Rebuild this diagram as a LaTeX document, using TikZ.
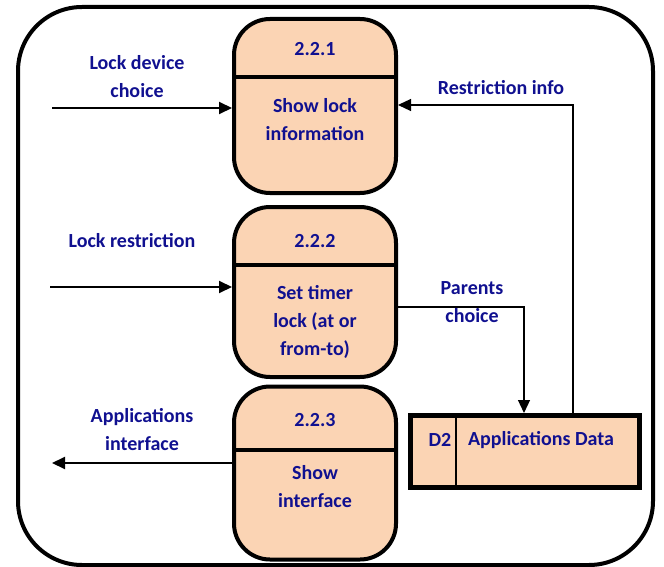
\documentclass[tikz,border=0pt]{standalone}
\usepackage{fontspec}
\setmainfont{Carlito}
\usepackage{tikz}
\usetikzlibrary{arrows.meta}
\definecolor{peach}{HTML}{FBD4B4}
\definecolor{inkblue}{RGB}{16,16,144}
\tikzset{
  proc/.style={draw, line width=4pt, fill=peach, rounded corners=36pt,
    minimum width=162pt, inner sep=0pt},
  lbl/.style={text=inkblue, font=\fontsize{20}{28}\selectfont\bfseries,
    align=center, inner sep=0pt},
  flow/.style={line width=2pt, -{Triangle[length=13pt,width=12pt]}},
  thinflow/.style={line width=1.2pt, -{Triangle[length=13pt,width=12pt]}}
}
\begin{document}
\begin{tikzpicture}[x=1pt,y=-1pt]
\useasboundingbox (0,0) rectangle (664,567);
% outer frame
\draw[line width=4pt, rounded corners=64pt] (18,7) rectangle (653,565);

% processes
\node[proc, minimum height=174pt] (p1) at (315,106) {};
\draw[line width=4pt] (p1.west |- 0,77) -- (p1.east |- 0,77);
\node[lbl] (n1) at (315,49) {2.2.1};
\node[lbl] (t1) at (315,120) {Show lock\\information};

\node[proc, minimum height=170pt] (p2) at (315,292) {};
\draw[line width=4pt] (p2.west |- 0,265) -- (p2.east |- 0,265);
\node[lbl] (n2) at (315,241) {2.2.2};
\node[lbl] (t2) at (315,322) {Set timer\\lock (at or\\from-to)};

\node[proc, minimum height=173pt] (p3) at (315,473) {};
\draw[line width=4pt] (p3.west |- 0,450) -- (p3.east |- 0,450);
\node[lbl] (n3) at (315,420) {2.2.3};
\node[lbl] (t3) at (315,487) {Show\\interface};

% data store
\node[draw, line width=5pt, fill=peach, minimum width=229pt, minimum height=72pt,
  inner sep=0pt] (store) at (525,451.5) {};
\draw[line width=1.5pt] (456,0 |- store.north) -- (456,0 |- store.south);
\node[lbl] (d2) at (440,440) {D2};
\node[lbl] (appdata) at (541,440) {Applications Data};

% outside flows
\coordinate (ldc) at (52,108);
\coordinate (lr) at (50,287);
\coordinate (ai) at (52,463);
\draw[flow] (ldc) -- (ldc -| p1.west);
\draw[flow] (lr) -- (lr -| p2.west);
\draw[flow] (ai -| p3.west) -- (ai);
\node[lbl] (ldcl) at (137,77) {Lock device\\choice};
\node[lbl] (lrl) at (132,241) {Lock restriction};
\node[lbl] (ail) at (142,430) {Applications\\interface};

% flows to and from the store
\coordinate (ri) at (573,105);
\coordinate (pc) at (524,307);
\draw[thinflow] (ri |- store.north) -- (ri) -- (ri -| p1.east);
\draw[thinflow] (pc -| p2.east) -- (pc) -- (pc |- store.north);
\node[lbl] (ril) at (501,88) {Restriction info};
\node[lbl] (pcl) at (472,302) {Parents\\choice};
\end{tikzpicture}
\end{document}
